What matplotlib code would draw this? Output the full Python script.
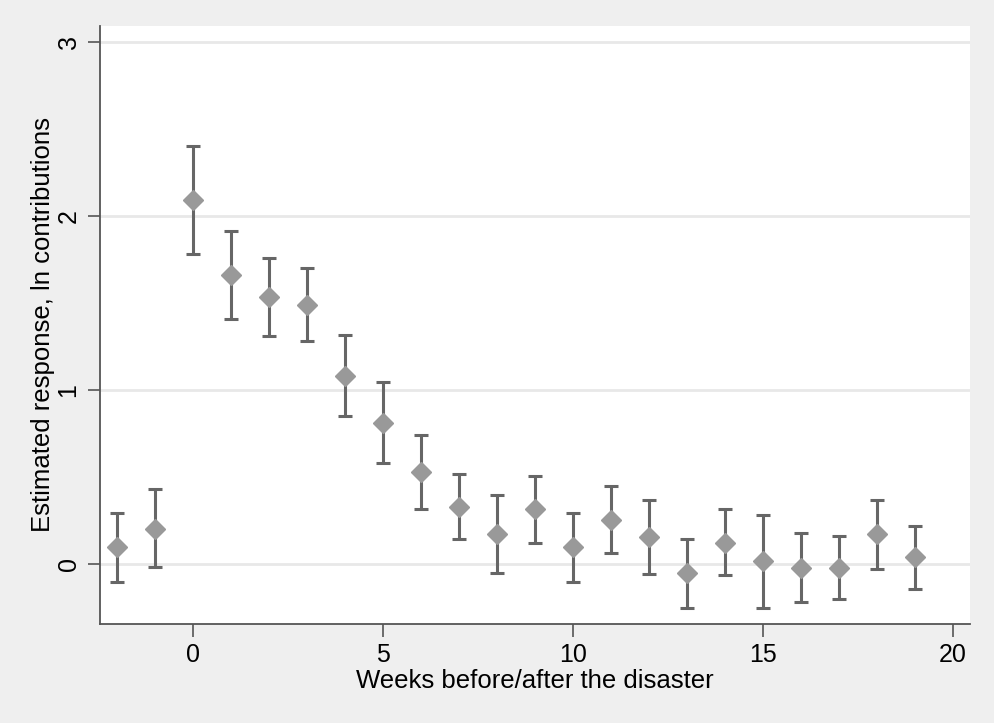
import matplotlib
matplotlib.use("Agg")
import matplotlib.pyplot as plt
import numpy as np

# weeks relative to the disaster
weeks = [-2, -1, 0, 1, 2, 3, 4, 5, 6, 7, 8, 9, 10, 11, 12, 13, 14, 15, 16, 17, 18, 19]
estimate = [0.094, 0.201, 2.09, 1.658, 1.532, 1.489, 1.081, 0.809, 0.526, 0.328, 0.171,
            0.311, 0.094, 0.253, 0.154, -0.057, 0.121, 0.016, -0.027, -0.027, 0.171, 0.039]
upper = [0.290, 0.426, 2.402, 1.911, 1.756, 1.697, 1.313, 1.042, 0.739, 0.514, 0.393,
         0.503, 0.293, 0.445, 0.366, 0.140, 0.311, 0.282, 0.173, 0.157, 0.366, 0.217]
lower = [-0.107, -0.021, 1.777, 1.405, 1.307, 1.282, 0.849, 0.577, 0.311, 0.140, -0.052,
         0.121, -0.107, 0.060, -0.059, -0.257, -0.067, -0.253, -0.220, -0.201, -0.032, -0.144]
xticks = [0, 5, 10, 15, 20]
yticks = [0, 1, 2, 3]

plt.rcParams['font.family'] = ['Liberation Sans', 'DejaVu Sans']

fig = plt.figure(figsize=(9.95, 7.23), dpi=100, facecolor='#efefef')
ax = fig.add_axes([0.1005, 0.137, 0.8745, 0.827])
ax.set_facecolor('white')

est = np.array(estimate)
yerr = np.array([est - np.array(lower), np.array(upper) - est])
ax.errorbar(weeks, est, yerr=yerr, fmt='none', ecolor='#666666', elinewidth=2.2,
            capsize=5, capthick=2.2, zorder=2)
ax.plot(weeks, est, ls='', marker='D', markersize=10, color='#999999',
        markeredgecolor='#999999', zorder=3)

ax.set_xlim(-2.45, 20.45)
ax.set_ylim(-0.347, 3.09)
ax.set_xticks(xticks)
ax.set_yticks(yticks)
ax.grid(axis='y', color='#e8e8e8', linewidth=2)
ax.set_axisbelow(True)

for side in ['top', 'right']:
    ax.spines[side].set_visible(False)
for side in ['left', 'bottom']:
    ax.spines[side].set_color('#555555')
    ax.spines[side].set_linewidth(1.3)

ax.tick_params(axis='both', length=9, width=1.2, color='#555555', labelsize=18, pad=5)
for lab in ax.get_yticklabels():
    lab.set_rotation(90)
    lab.set_va('center')

ax.set_xlabel('Weeks before/after the disaster', fontsize=18.5, labelpad=1)
ax.set_ylabel('Estimated response, ln contributions', fontsize=18.5, labelpad=1)

fig.savefig('out.png', dpi=100, facecolor=fig.get_facecolor())
